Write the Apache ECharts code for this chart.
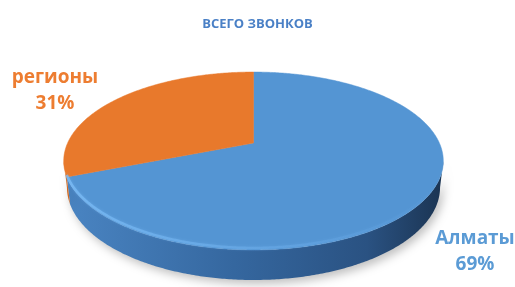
<!DOCTYPE html>
<html><head><meta charset="utf-8">
<script src="https://cdn.jsdelivr.net/npm/echarts@6/dist/echarts.min.js"></script>
<style>html,body{margin:0;padding:0;background:#fff}#c{width:515px;height:287px}</style>
</head><body><div id="c"></div>
<script>
// ---- data ----
const categories = ['Алматы', 'регионы'];
const values = [69, 31];
const titleText = 'ВСЕГО ЗВОНКОВ';

// ---- styles / layout ----
const topColors = ['#5495d3', '#e8792c'];
const labelColors = ['#5b9bd5', '#ed7d31'];
const wallStops = [
  [{offset: 0, color: '#4a85c3'}, {offset: 0.45, color: '#35679f'}, {offset: 0.8, color: '#2a5282'}, {offset: 1, color: '#1b3452'}],
  [{offset: 0, color: '#d26a22'}, {offset: 1, color: '#b85a1a'}]
];
const labelAnchors = [[475, 252], [55, 91]];
// perspective camera fitted to the reference
const P = {cx: 253.5, cy: 143, F: 816, D: 4.39, s: 0.459, c: 0.888, h: 0.159};

function proj(X, Y, Z) {
  const v = Y * P.s + Z * P.c;
  const depth = P.D + Y * P.c - Z * P.s;
  return [P.cx + P.F * X / depth, P.cy - P.F * v / depth];
}
function arc(a0, a1, Z) {
  const pts = [];
  const n = Math.max(2, Math.ceil(Math.abs(a1 - a0) / 0.01));
  for (let k = 0; k <= n; k++) {
    const t = a0 + (a1 - a0) * k / n;
    pts.push(proj(Math.sin(t), Math.cos(t), Z));
  }
  return pts;
}

const total = values.reduce((a, b) => a + b, 0);
const cum = [];
values.reduce((acc, v, i) => { cum[i] = acc; return acc + v; }, 0);

const visA = Math.acos(-P.c / P.D);
const visB = 2 * Math.PI - visA;

const chart = echarts.init(document.getElementById('c'));
chart.setOption({
  animation: false,
  title: {
    text: titleText, left: 'center', top: 13,
    textStyle: {fontSize: 13, fontWeight: 'bold', color: '#4a80c6', fontFamily: 'Open Sans'}
  },
  series: [{
    type: 'custom',
    coordinateSystem: 'none',
    data: categories.map((n, i) => ({name: n, value: values[i]})),
    renderItem: function (params, api) {
      const i = params.dataIndex;
      const v = api.value(0);
      const a0 = cum[i] / total * 2 * Math.PI;
      const a1 = (cum[i] + v) / total * 2 * Math.PI;
      const children = [];
      // outer wall
      const w0 = Math.max(a0, visA), w1 = Math.min(a1, visB);
      if (w1 > w0) {
        const topArc = arc(w0, w1, 0);
        const botArc = arc(w1, w0, -P.h);
        children.push({
          type: 'polygon', z2: 1,
          shape: {points: topArc.concat(botArc)},
          style: {
            fill: {type: 'linear', x: 63, y: 0, x2: 443, y2: 0, global: true, colorStops: wallStops[i]},
            shadowColor: 'rgba(0,0,0,0.25)', shadowBlur: 10, shadowOffsetY: 4, shadowOffsetX: 3
          }
        });
        if (i === 0) {
          children.push({
            type: 'polyline', z2: 20,
            shape: {points: arc(w1, w0, 0).map(p => [p[0], p[1] - 2])},
            style: {
              fill: null, lineWidth: 2.5, shadowBlur: 3, shadowColor: 'rgba(120,185,245,0.6)',
              stroke: {type: 'linear', x: 63, y: 0, x2: 443, y2: 0, global: true,
                colorStops: [{offset: 0, color: 'rgba(125,190,248,0.75)'}, {offset: 0.5, color: 'rgba(115,180,240,0.4)'}, {offset: 1, color: 'rgba(110,175,240,0)'}]}
            }
          });
        }
      }
      // top face
      const apex = proj(0, 0, 0);
      children.push({
        type: 'polygon', z2: 10,
        shape: {points: [apex].concat(arc(a0, a1, 0))},
        style: {fill: topColors[i], stroke: topColors[i], lineWidth: 0.5}
      });
      // label
      children.push({
        type: 'text', z2: 30,
        x: labelAnchors[i][0], y: labelAnchors[i][1],
        style: {
          text: categories[i] + '\n' + v + '%',
          fill: labelColors[i], align: 'center', verticalAlign: 'middle',
          font: 'bold 19px "Open Sans"', lineHeight: 26
        }
      });
      return {type: 'group', children: children};
    }
  }]
});
</script>
</body></html>
